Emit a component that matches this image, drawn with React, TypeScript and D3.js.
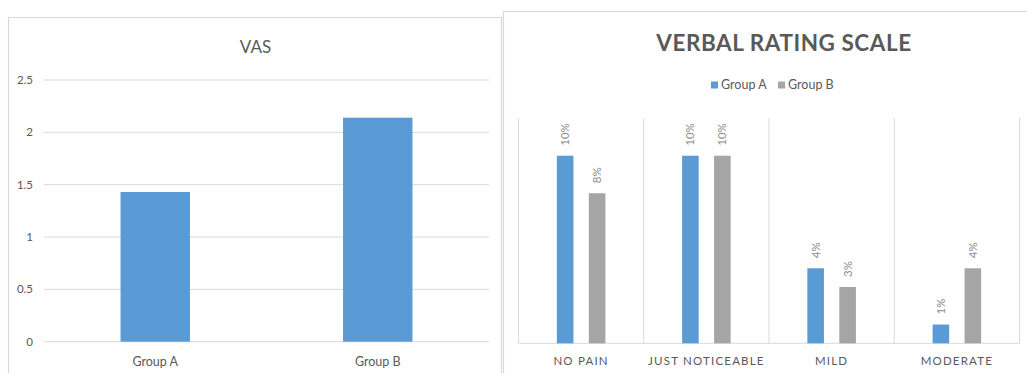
import React from "react";
import * as d3 from "d3";

const vasCategories = ["Group A", "Group B"];
const vasValues = [1.43, 2.14];
const vasTicks = [0, 0.5, 1, 1.5, 2, 2.5];

const vrsCategories = ["NO PAIN", "JUST NOTICEABLE", "MILD", "MODERATE"];
const vrsSeries = ["Group A", "Group B"];
const vrsGroupA = [10, 10, 4, 1];
const vrsGroupB = [8, 10, 3, 4];

const BLUE = "#5B9BD5";
const GRAY = "#A5A5A5";
const TEXT = "#595959";
const GRID = "#D9D9D9";
const FONT = "Lato, 'Open Sans', sans-serif";

export default function App() {
  // Left chart scales
  const yL = d3.scaleLinear().domain([0, 2.5]).range([341.7, 80]);
  const xL = d3.scaleBand<string>().domain(vasCategories).range([44, 489]).padding(0);
  const barWL = xL.step() * 0.312;

  // Right chart scales
  const yR = d3.scaleLinear().domain([0, 12]).range([343.3, 118.2]);
  const xR = d3.scaleBand<string>().domain(vrsCategories).range([518.5, 1019.5]).padding(0);
  const xInner = d3
    .scaleBand<string>()
    .domain(vrsSeries)
    .range([0, xR.step()])
    .paddingInner(0.481)
    .paddingOuter(1.2);
  const seriesValues = [vrsGroupA, vrsGroupB];
  const seriesColors = [BLUE, GRAY];

  return (
    <svg
      width={1027}
      height={373}
      style={{ position: "absolute", left: 0, top: 0, background: "#fff" }}
      fontFamily={FONT}
    >
      <rect x={0} y={0} width={1027} height={373} fill="#fff" />
      {/* Left panel border */}
      <path d="M8.5,380 V17.5 H501.5 V380" fill="none" stroke={GRID} strokeWidth={1.2} />
      {/* Right panel border */}
      <path d="M503.5,380 V11.5 H1030" fill="none" stroke={GRID} strokeWidth={1.2} />

      {/* VAS chart */}
      <text x={255.5} y={53.3} textAnchor="middle" fontSize={17} fill={TEXT}>
        VAS
      </text>
      {vasTicks.map((t) => (
        <g key={t}>
          <line x1={44} x2={489} y1={yL(t)} y2={yL(t)} stroke={GRID} strokeWidth={1} />
          <text x={33} y={yL(t) + 4} textAnchor="end" fontSize={11.5} fill={TEXT}>
            {String(t)}
          </text>
        </g>
      ))}
      {vasCategories.map((c, i) => (
        <g key={c}>
          <rect
            x={(xL(c) as number) + xL.step() / 2 - barWL / 2}
            y={yL(vasValues[i])}
            width={barWL}
            height={yL(0) - yL(vasValues[i])}
            fill={BLUE}
          />
          <text
            x={(xL(c) as number) + xL.step() / 2}
            y={366}
            textAnchor="middle"
            fontSize={12.5}
            fill={TEXT}
          >
            {c}
          </text>
        </g>
      ))}

      {/* Verbal Rating Scale chart */}
      <text
        x={784}
        y={51}
        textAnchor="middle"
        fontSize={22.5}
        fontWeight="bold"
        letterSpacing={0.55}
        fill={TEXT}
      >
        VERBAL RATING SCALE
      </text>
      {/* Legend */}
      <rect x={711} y={81.5} width={7} height={7} fill={BLUE} />
      <text x={721} y={89} fontSize={12.5} fill={TEXT}>
        Group A
      </text>
      <rect x={778} y={81.5} width={7} height={7} fill={GRAY} />
      <text x={788} y={89} fontSize={12.5} fill={TEXT}>
        Group B
      </text>

      {/* Vertical category gridlines */}
      {[...vrsCategories.map((c) => xR(c) as number), xR.range()[1]].map((x, i) => (
        <line key={i} x1={x} x2={x} y1={yR(12)} y2={yR(0)} stroke={GRID} strokeWidth={1} />
      ))}
      <line x1={xR.range()[0]} x2={xR.range()[1]} y1={yR(0)} y2={yR(0)} stroke={GRID} strokeWidth={1} />

      {vrsCategories.map((c, ci) => (
        <g key={c}>
          {vrsSeries.map((s, si) => {
            const v = seriesValues[si][ci];
            const x = (xR(c) as number) + (xInner(s) as number);
            const w = xInner.bandwidth();
            const cx = x + w / 2;
            const top = yR(v);
            return (
              <g key={s}>
                <rect x={x} y={top} width={w} height={yR(0) - top} fill={seriesColors[si]} />
                <text
                  transform={`translate(${cx + 4},${top - 10}) rotate(-90)`}
                  fontSize={11.5}
                  fill="#8C8C8C"
                >
                  {`${v}%`}
                </text>
              </g>
            );
          })}
          <text
            x={(xR(c) as number) + xR.step() / 2}
            y={365}
            textAnchor="middle"
            fontSize={11.5}
            letterSpacing={1.2}
            fill={TEXT}
          >
            {c}
          </text>
        </g>
      ))}
    </svg>
  );
}
